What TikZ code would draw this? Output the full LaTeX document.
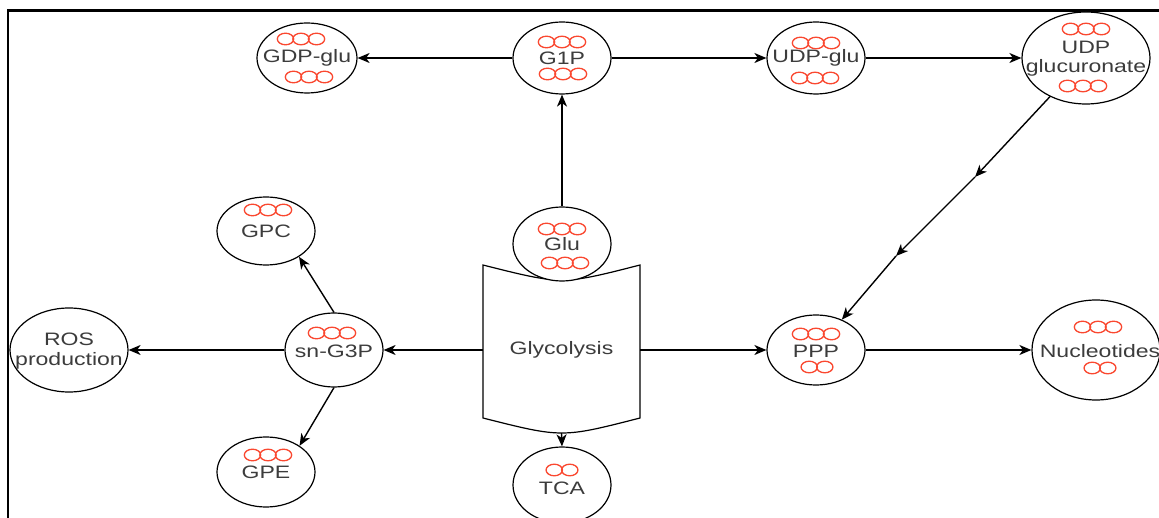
\documentclass[tikz,border=0pt]{standalone}
\usepackage{fontspec}
\setmainfont{Liberation Sans}
\usetikzlibrary{shapes.geometric,arrows.meta}
\definecolor{ringred}{RGB}{250,72,48}
\definecolor{txt}{RGB}{60,60,60}
\newcommand{\wx}[1]{\scalebox{1.28}[1]{#1}}
\newcommand{\ringrow}[3]{\foreach \k in {1,...,#3}{\draw[ring] ({#1+(\k-(#3+1)/2)*15.5},#2) ellipse [x radius=8.2, y radius=5.8];}}
\tikzset{
  met/.style={draw=black, line width=1.2pt, ellipse, inner sep=0pt, fill=white},
  lab/.style={inner sep=0pt, font=\fontsize{18}{20}\selectfont, text=txt, align=center},
  ring/.style={draw=ringred, line width=1.3pt},
  conn/.style={draw=black, line width=1.4pt, -{Stealth[length=12pt,width=10pt,inset=3.5pt]}},
}
\begin{document}
\begin{tikzpicture}[x=1pt,y=-1pt]
\useasboundingbox (0,0) rectangle (1159,518);
\fill[white] (0,0) rectangle (1159,518);
% frame
\draw[line width=2.5pt] (8,518) -- (8,10.5) -- (1159,10.5);

% glycolysis tape shape
\draw[line width=1.2pt, fill=white] (483,265) .. controls (562,285) .. (640,265) -- (640,418)
   .. controls (562,438) .. (483,418) -- cycle;
\node[lab, minimum width=157, minimum height=166] (glyc) at (561.5,350) {\wx{Glycolysis}};

% metabolite ellipses
\node[met, minimum width=100, minimum height=70] (gdp) at (307,58) {};
\node[met, minimum width=98, minimum height=72] (g1p) at (562,58) {};
\node[met, minimum width=98, minimum height=72] (udpglu) at (816,58) {};
\node[met, minimum width=128, minimum height=92] (udpgluc) at (1086,58) {};
\node[met, minimum width=98, minimum height=74] (glu) at (562,244) {};
\node[met, minimum width=98, minimum height=76] (tca) at (562,485) {};
\node[met, minimum width=98, minimum height=68] (gpc) at (266,231) {};
\node[met, minimum width=98, minimum height=74] (sng3p) at (334,350) {};
\node[met, minimum width=98, minimum height=70] (gpe) at (266,472) {};
\node[met, minimum width=118, minimum height=84] (ros) at (69,350) {};
\node[met, minimum width=98, minimum height=70] (ppp) at (816,350) {};
\node[met, minimum width=128, minimum height=100] (nuc) at (1096,350) {};

% labels
\node[lab] (gdpT) at (307,58) {\wx{GDP-glu}};
\node[lab] (g1pT) at (562,58) {\wx{G1P}};
\node[lab] (udpgluT) at (816,58) {\wx{UDP-glu}};
\node[lab] (udpglucT) at (1086,59) {\wx{UDP}\\[-1pt]\wx{glucuronate}};
\node[lab] (gluT) at (562,244) {\wx{Glu}};
\node[lab] (tcaT) at (562,488) {\wx{TCA}};
\node[lab] (gpcT) at (266,231) {\wx{GPC}};
\node[lab] (sng3pT) at (334,351) {\wx{sn-G3P}};
\node[lab] (gpeT) at (266,472) {\wx{GPE}};
\node[lab] (rosT) at (69,351) {\wx{ROS}\\\wx{production}};
\node[lab] (pppT) at (816,351) {\wx{PPP}};
\node[lab] (nucT) at (1100,351) {\wx{Nucleotides}};

% rings
\ringrow{301}{39}{3}\ringrow{309}{77}{3}
\ringrow{562}{42}{3}\ringrow{563}{74}{3}
\ringrow{816}{43}{3}\ringrow{815}{78}{3}
\ringrow{1086}{29}{3}\ringrow{1083}{86}{3}
\ringrow{562}{229}{3}\ringrow{565}{263}{3}
\ringrow{562}{470}{2}
\ringrow{268}{210}{3}
\ringrow{332}{333}{3}
\ringrow{268}{455}{3}
\ringrow{816}{334}{3}\ringrow{817}{367}{2}
\ringrow{1098}{327}{3}\ringrow{1100}{368}{2}

% connectors
\coordinate (m1) at (975,177);
\coordinate (m2) at (896,256);
\draw[conn] (g1p.west) -- (gdp.east);
\draw[conn] (g1p.east) -- (udpglu.west);
\draw[conn] (udpglu.east) -- (udpgluc.west);
\draw[conn] (glu.north) -- (g1p.south);
\draw[conn] (udpgluc) -- (m1);
\draw[conn] (m1) -- (m2);
\draw[conn] (m2) -- (ppp);
\draw[conn] (glyc.west) -- (sng3p.east);
\draw[conn] (glyc.east) -- (ppp.west);
\draw[conn] (glyc.south) -- (tca.north);
\draw[conn] (sng3p.west) -- (ros.east);
\draw[conn] (sng3p.north) -- (gpc.-38);
\draw[conn] (sng3p.south) -- (gpe.38);
\draw[conn] (ppp.east) -- (nuc.west);
\end{tikzpicture}
\end{document}
